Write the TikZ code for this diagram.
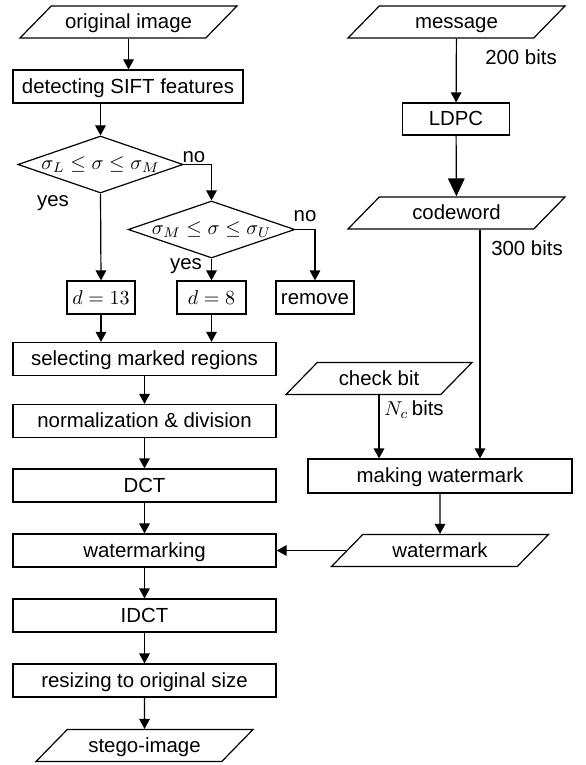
\documentclass[tikz,border=0pt]{standalone}
\usepackage[no-math]{fontspec}
\setmainfont{Liberation Sans}
\usepackage{amsmath}
\usetikzlibrary{shapes.geometric, arrows.meta}

\tikzset{
  block/.style={draw, rectangle, minimum height=16.5pt, inner sep=0pt, text height=1.5ex, text depth=.25ex},
  io/.style={draw, trapezium, trapezium left angle=30.6, trapezium right angle=149.4,
    trapezium stretches body, minimum width=108.5pt, minimum height=16pt, inner sep=0pt,
    text height=1.5ex, text depth=.25ex},
  decision/.style={draw, diamond, aspect=3, inner sep=0pt, minimum width=80.5pt, minimum height=28.5pt},
  arrow/.style={-{Triangle[length=5pt,width=5.3pt]}},
  bigarrow/.style={-{Triangle[length=9pt,width=8.3pt]}},
  lbl/.style={inner sep=0pt}
}

\begin{document}
\begin{tikzpicture}[x=0.5pt, y=-0.5pt, line width=0.6pt, font=\fontsize{10.2}{12}\selectfont]
\useasboundingbox (0,0) rectangle (585,765);

% embedding chain
\node[io] (orig) at (128.5,22) {original image};
\node[block, minimum width=115pt] (sift) at (128,86.5) {detecting SIFT features};
\node[decision] (dec1) at (100.5,164.5) {$\sigma_L \le \sigma \le \sigma_M$};
\node[decision] (dec2) at (211.5,229.5) {$\sigma_M \le \sigma \le \sigma_U$};
\node[block, minimum width=34pt] (d13) at (101,297.5) {$d=13$};
\node[block, minimum width=34.5pt] (d8) at (211.5,297.5) {$d=8$};
\node[block, minimum width=39pt] (remove) at (315,297.5) {remove};
\node[block, minimum width=131.5pt] (select) at (144.5,359) {selecting marked regions};
\node[block, minimum width=131.5pt] (norm) at (144.5,421) {normalization \& division};
\node[block, minimum width=131.5pt] (dct) at (144.5,485.5) {DCT};
\node[block, minimum width=131.5pt] (embed) at (144.5,550.5) {watermarking};
\node[block, minimum width=131.5pt] (idct) at (144.5,615.5) {IDCT};
\node[block, minimum width=131.5pt] (resize) at (144.5,680.5) {resizing to original size};
\node[io] (stego) at (144.5,745.5) {stego-image};

% branch labels
\node[lbl] (no1) at (194,157) {no};
\node[lbl] (yes1) at (53,203) {yes};
\node[lbl] (no2) at (305,216) {no};
\node[lbl] (yes2) at (186,266) {yes};

% watermark chain
\node[io] (msg) at (456.5,22) {message};
\node[block, minimum width=53.5pt, minimum height=16pt] (ldpc) at (456,119) {LDPC};
\node[io] (code) at (456.5,213) {codeword};
\node[io, minimum width=93pt] (check) at (379,378.5) {check bit};
\node[block, minimum width=132pt, minimum height=17pt] (making) at (440,476) {making watermark};
\node[io] (wm) at (440,550.5) {watermark};

\node[lbl] (b200) at (521,57) {200 bits};
\node[lbl] (b300) at (527,248) {300 bits};
\node[lbl] (nc) at (414,410) {$N_c$\,bits};

% connectors
\draw[arrow] (orig.south) -- (orig.south |- sift.north);
\draw[arrow] (sift.south -| dec1.north) -- (dec1.north);
\draw[arrow] (dec1.east) -| (dec2.north);
\draw[arrow] (dec1.south) -- (d13.north);
\draw[arrow] (dec2.south) -- (d8.north);
\draw[arrow] (dec2.east) -| (remove.north);
\draw[arrow] (d13.south) -- (d13.south |- select.north);
\draw[arrow] (d8.south) -- (d8.south |- select.north);
\foreach \a/\b in {select/norm, norm/dct, dct/embed, embed/idct, idct/resize, resize/stego}
  \draw[arrow] (\a) -- (\b);

\draw[arrow] (msg) -- (ldpc);
\draw[bigarrow] (ldpc) -- (code);
\draw[arrow] ([xshift=11.75pt]code.south) -- ([xshift=11.75pt]code.south |- making.north);
\draw[arrow] (check.south) -- (check.south |- making.north);
\draw[arrow] (making) -- (wm);
\draw[arrow] (wm.left side) -- (embed.east);
\end{tikzpicture}
\end{document}
